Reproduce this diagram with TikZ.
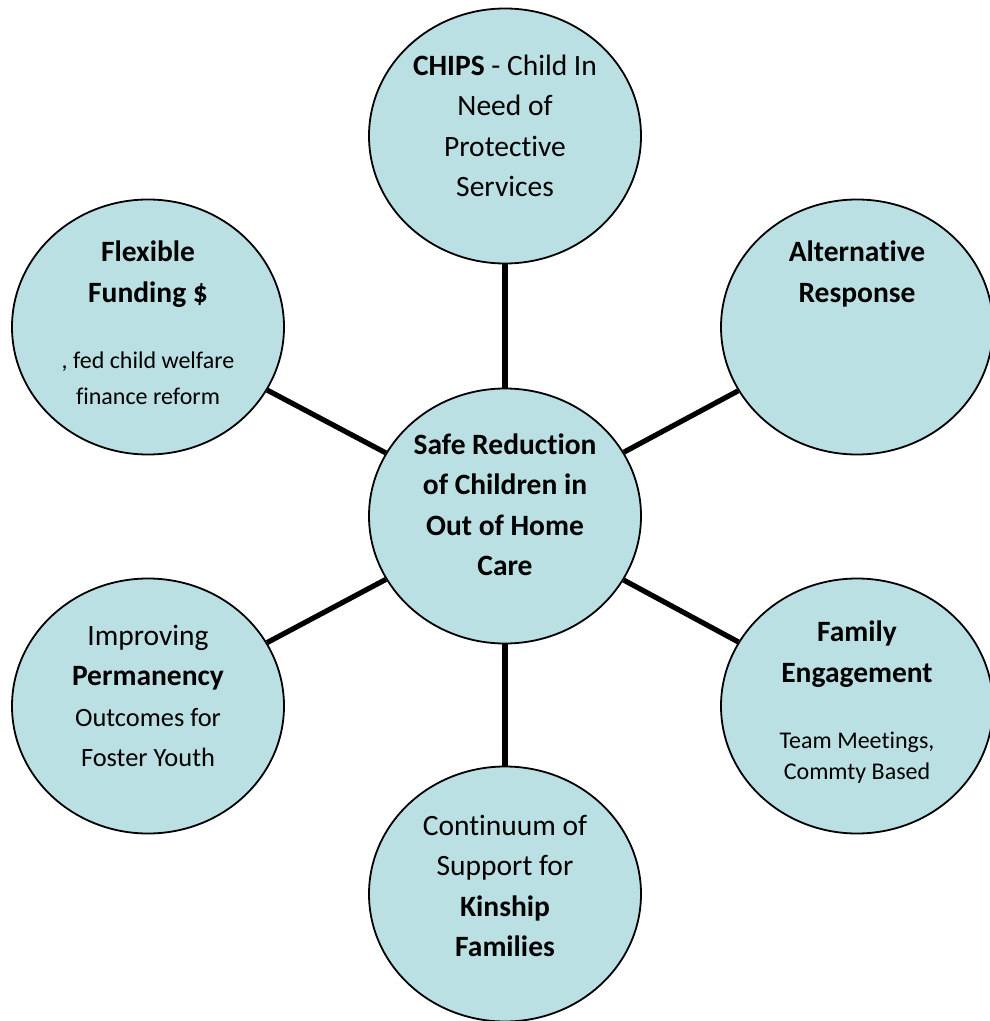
\documentclass[tikz,border=0pt]{standalone}
\usepackage{fontspec}
\setmainfont[Ligatures=NoCommon]{Carlito}
\usetikzlibrary{shapes.geometric,calc}
\definecolor{bubblefill}{RGB}{187,224,227}

\begin{document}
\begin{tikzpicture}[
      x=0.5pt, y=-0.5pt, % <-- ONE UNIT PER PIXEL, Y GOES DOWN
      bubble/.style={draw, ellipse, fill=bubblefill, line width=0.9pt, minimum width=136pt, minimum height=127.5pt, inner sep=0pt},
      caption/.style={align=center, inner sep=0pt, font=\fontsize{14.75}{20.25}\selectfont},
      note/.style={align=center, inner sep=0pt, font=\fontsize{12}{18}\selectfont},
      spoke/.style={line width=2.6pt}
    ]
    \useasboundingbox (0,0) rectangle (989,1021);

    % Bubbles round the hub
    \node[bubble] (hub) at (505,516) {};
    \node[bubble] (chips) at (505,136) {};
    \node[bubble] (flex) at (148,327) {};
    \node[bubble] (alt) at (857,327) {};
    \node[bubble] (perm) at (148,706) {};
    \node[bubble] (fam) at (857,706) {};
    \node[bubble] (kin) at (505,894) {};

    % Spokes
    \draw[spoke] (hub) -- (chips);
    \draw[spoke] (hub) -- (flex);
    \draw[spoke] (hub) -- (alt);
    \draw[spoke] (hub) -- (perm);
    \draw[spoke] (hub) -- (fam);
    \draw[spoke] (hub) -- (kin);

    % Texts
    \node[caption] (hubText) at ($(hub)+(0,-11)$) {\textbf{Safe Reduction}\\\textbf{of Children in}\\\textbf{Out of Home}\\\textbf{Care}};
    \node[caption] (chipsText) at ($(chips)+(0,-10)$) {\textbf{CHIPS} - Child In\\Need of\\Protective\\Services};
    \node[caption] (flexText) at ($(flex)+(0,-53)$) {\textbf{Flexible}\\\textbf{Funding \$}};
    \node[note] (flexNote) at ($(flex)+(0,51)$) {, fed child welfare\\finance reform};
    \node[caption] (altText) at ($(alt)+(0,-53)$) {\textbf{Alternative}\\\textbf{Response}};
    \node[caption] (permText) at ($(perm)+(0,-10)$) {Improving\\\textbf{Permanency}\\{\fontsize{13.2}{20.25}\selectfont Outcomes for}\\{\fontsize{13.2}{20.25}\selectfont Foster Youth}};
    \node[caption] (famText) at ($(fam)+(0,-52)$) {\textbf{Family}\\\textbf{Engagement}};
    \node[note, font=\fontsize{12}{15.5}\selectfont] (famNote) at ($(fam)+(0,52)$) {Team Meetings,\\Commty Based};
    \node[caption] (kinText) at ($(kin)+(0,-8)$) {Continuum of\\Support for\\\textbf{Kinship}\\\textbf{Families}};

  \end{tikzpicture}
\end{document}
